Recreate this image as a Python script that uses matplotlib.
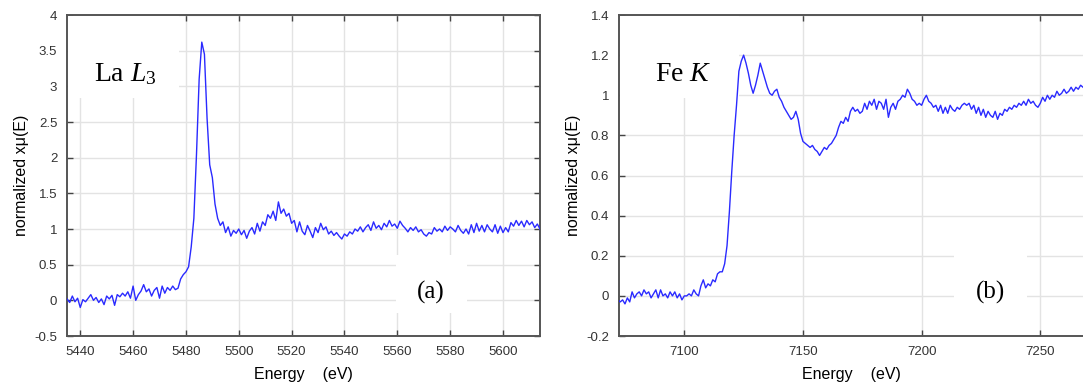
import numpy as np
import matplotlib
matplotlib.use("Agg")
import matplotlib.pyplot as plt
from matplotlib.patches import Rectangle
from matplotlib.ticker import StrMethodFormatter

# La L3 edge, 1 eV steps starting at 5435 eV
la_start = 5435
la_mu = [
    0.02, -0.03, 0.06, -0.02, 0.03, -0.10, 0.01, -0.02, 0.03, 0.08,
    0.00, 0.04, -0.03, 0.02, -0.06, 0.06, 0.02, 0.07, -0.07, 0.08,
    0.05, 0.10, 0.06, 0.12, 0.03, 0.20, 0.00, 0.08, 0.13, 0.22,
    0.12, 0.16, 0.06, 0.14, 0.18, 0.03, 0.20, 0.10, 0.18, 0.14,
    0.20, 0.15, 0.17, 0.30, 0.36, 0.40, 0.47, 0.75, 1.15, 2.05,
    3.10, 3.62, 3.45, 2.55, 1.90, 1.72, 1.35, 1.15, 1.05, 1.10,
    0.95, 1.03, 0.90, 0.98, 0.94, 1.00, 0.92, 0.98, 0.87, 0.97,
    1.02, 0.93, 1.08, 0.97, 1.10, 1.05, 1.20, 1.15, 1.25, 1.12,
    1.38, 1.22, 1.28, 1.18, 1.22, 1.08, 1.12, 0.96, 1.10, 0.97,
    0.92, 1.05, 0.97, 0.88, 1.02, 0.95, 1.08, 0.99, 1.03, 0.93,
    0.97, 0.91, 0.95, 0.90, 0.86, 0.93, 0.90, 0.96, 0.93, 1.00,
    0.97, 1.03, 0.96, 1.02, 1.06, 0.98, 1.10, 1.01, 1.05, 0.99,
    1.08, 1.03, 1.12, 1.04, 1.07, 1.01, 1.11, 1.05, 1.01, 0.96,
    1.02, 0.98, 1.03, 0.96, 0.99, 0.93, 0.90, 0.95, 0.93, 1.02,
    0.97, 1.00, 0.96, 1.04, 0.98, 1.03, 1.00, 0.96, 1.05, 0.98,
    0.94, 1.00, 0.93, 1.06, 0.95, 1.08, 0.97, 1.05, 0.96, 1.06,
    1.00, 0.96, 1.06, 0.94, 1.04, 0.95, 1.02, 0.96, 1.09, 1.04,
    1.12, 1.05, 1.11, 1.03, 1.12, 1.06, 1.10, 1.02, 1.07, 1.00,
]

# Fe K edge, 1 eV steps starting at 7072 eV
fe_start = 7072
fe_mu = [
    -0.02, -0.03, -0.02, -0.04, -0.01, -0.03, 0.02, -0.01, 0.01,
    0.02, 0.00, 0.03, 0.01, 0.02, -0.01, 0.01, 0.03, -0.01, 0.03,
    0.00, 0.01, -0.01, 0.02, 0.00, 0.02, -0.01, 0.01, -0.02, 0.00,
    0.00, 0.01, 0.00, 0.03, 0.01, 0.00, 0.05, 0.08, 0.04, 0.06,
    0.05, 0.08, 0.07, 0.11, 0.12, 0.12, 0.16, 0.25, 0.42, 0.62,
    0.80, 0.95, 1.12, 1.17, 1.20, 1.16, 1.11, 1.05, 1.01, 1.05,
    1.10, 1.16, 1.12, 1.08, 1.04, 1.01, 1.00, 1.02, 1.03, 0.99,
    0.97, 0.94, 0.92, 0.90, 0.88, 0.89, 0.92, 0.88, 0.81, 0.77,
    0.76, 0.75, 0.74, 0.75, 0.73, 0.72, 0.70, 0.72, 0.74, 0.73,
    0.75, 0.76, 0.78, 0.80, 0.84, 0.87, 0.86, 0.89, 0.87, 0.92,
    0.94, 0.92, 0.93, 0.91, 0.92, 0.96, 0.93, 0.97, 0.95, 0.98,
    0.93, 0.97, 0.96, 0.93, 0.98, 0.89, 0.94, 0.96, 0.93, 0.97,
    0.98, 1.00, 0.99, 1.03, 1.01, 0.98, 0.97, 0.95, 0.96, 0.95,
    0.98, 1.00, 0.97, 0.96, 0.94, 0.95, 0.92, 0.95, 0.91, 0.94,
    0.91, 0.95, 0.93, 0.92, 0.94, 0.93, 0.95, 0.96, 0.95, 0.96,
    0.93, 0.95, 0.91, 0.94, 0.90, 0.93, 0.89, 0.92, 0.90, 0.89,
    0.92, 0.88, 0.91, 0.90, 0.93, 0.92, 0.94, 0.93, 0.95, 0.94,
    0.96, 0.95, 0.97, 0.95, 0.98, 0.96, 0.97, 0.95, 0.94, 0.96,
    0.99, 0.97, 1.00, 0.98, 1.00, 0.99, 1.02, 1.00, 1.01, 1.03,
    1.01, 1.02, 1.04, 1.02, 1.04, 1.03, 1.05, 1.04,
]

la_xticks = [5440, 5460, 5480, 5500, 5520, 5540, 5560, 5580, 5600]
la_yticks = [-0.5, 0, 0.5, 1, 1.5, 2, 2.5, 3, 3.5, 4]
fe_xticks = [7100, 7150, 7200, 7250]
fe_yticks = [-0.2, 0, 0.2, 0.4, 0.6, 0.8, 1, 1.2, 1.4]

plt.rcParams['axes.unicode_minus'] = False
plt.rcParams['font.family'] = ['Liberation Sans', 'DejaVu Sans']
plt.rcParams['mathtext.fontset'] = 'custom'
plt.rcParams['mathtext.rm'] = 'Liberation Serif'
plt.rcParams['mathtext.it'] = 'Liberation Serif:italic'

fig = plt.figure(figsize=(10.83, 3.83), dpi=100)
ax1 = fig.add_axes([0.0619, 0.1227, 0.4367, 0.8381])
ax2 = fig.add_axes([0.5716, 0.1227, 0.4284, 0.8381])

la_e = np.arange(la_start, la_start + len(la_mu))
fe_e = np.arange(fe_start, fe_start + len(fe_mu))


def style(ax, xt, yt, xlim, ylim, show_right=True):
    ax.set_xlim(*xlim)
    ax.set_ylim(*ylim)
    ax.set_xticks(xt)
    ax.set_yticks(yt)
    ax.yaxis.set_major_formatter(StrMethodFormatter('{x:g}'))
    ax.grid(True, color='#e3e3e3', lw=1.0)
    ax.set_axisbelow(True)
    ax.tick_params(direction='in', length=4, width=1, colors='#444444',
                   labelcolor='#333333', labelsize=9.5, top=True, right=show_right, pad=7)
    for s in ['left', 'bottom', 'top', 'right']:
        ax.spines[s].set_color('#555555')
        ax.spines[s].set_linewidth(1.4)
    if not show_right:
        ax.spines['right'].set_visible(False)
    ax.set_xlabel('Energy    (eV)', fontsize=11.5, labelpad=7)
    ax.set_ylabel('normalized x\u03bc(E)', fontsize=11.5, labelpad=4)


style(ax1, la_xticks, la_yticks, (5435, 5614), (-0.5, 4))
style(ax2, fe_xticks, fe_yticks, (7072.5, 7268), (-0.2, 1.4), show_right=False)

ax1.plot(la_e, la_mu, color='#2a2aff', lw=1.0, zorder=3)
ax2.plot(fe_e, fe_mu, color='#2a2aff', lw=1.0, zorder=3)

# white label boxes hiding the grid
for ax, (x0, y0, w, h) in [(ax1, (0.002, 0.741, 0.235, 0.257)),
                           (ax1, (0.696, 0.072, 0.150, 0.180)),
                           (ax2, (0.002, 0.741, 0.257, 0.257)),
                           (ax2, (0.722, 0.072, 0.157, 0.180))]:
    ax.add_patch(Rectangle((x0, y0), w, h, transform=ax.transAxes,
                           facecolor='white', edgecolor='none', zorder=1.5))

ax1.text(0.123, 0.815, 'La $L_\\mathit{3}$', transform=ax1.transAxes, fontsize=20,
         family='Liberation Serif', ha='center', va='center', zorder=4)
ax1.text(0.77, 0.137, '(a)', transform=ax1.transAxes, fontsize=18,
         family='Liberation Serif', ha='center', va='center', zorder=4)
ax2.text(0.138, 0.815, 'Fe $K$', transform=ax2.transAxes, fontsize=20,
         family='Liberation Serif', ha='center', va='center', zorder=4)
ax2.text(0.80, 0.137, '(b)', transform=ax2.transAxes, fontsize=18,
         family='Liberation Serif', ha='center', va='center', zorder=4)

fig.savefig('out.png', dpi=100)
